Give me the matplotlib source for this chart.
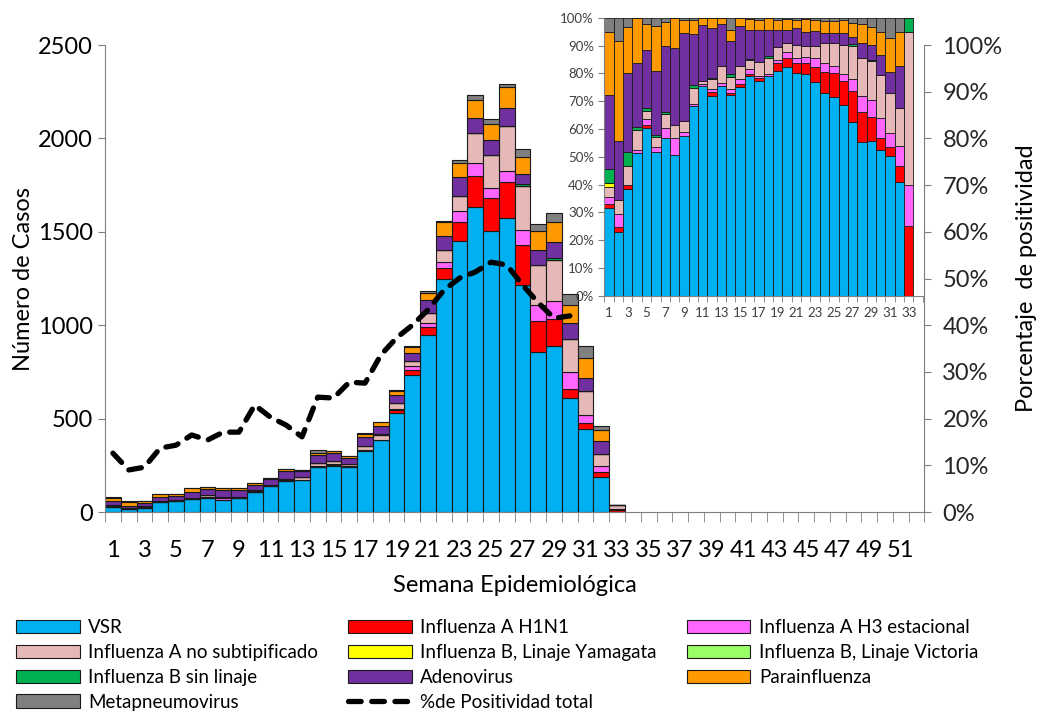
import numpy as np
import matplotlib
matplotlib.use("Agg")
import matplotlib.pyplot as plt
from matplotlib.ticker import FuncFormatter

plt.rcParams['font.family'] = ['Lato', 'DejaVu Sans']

# semanas epidemiologicas con datos
semanas = list(range(1, 34))

# casos por agente (semanas 1-33)
vsr = [25, 14, 23, 51, 58, 68, 77, 66, 73, 105, 139, 164, 170, 239, 247, 239, 325, 383, 528, 733,
       946, 1246, 1451, 1632, 1505, 1572, 1215, 854, 890, 613, 447, 189, 0]
h1n1 = [1, 1, 1, 0, 1, 0, 0, 0, 0, 0, 0, 3, 0, 2, 3, 2, 5, 0, 20, 27,
        46, 61, 102, 167, 177, 197, 214, 167, 141, 47, 28, 27, 10]
h3 = [2, 3, 0, 1, 2, 2, 5, 8, 2, 1, 1, 3, 2, 5, 6, 5, 3, 4, 6, 21,
      20, 33, 60, 67, 55, 57, 83, 88, 96, 87, 46, 33, 6]
a_nosub = [3, 3, 4, 7, 3, 5, 7, 6, 5, 9, 2, 8, 14, 14, 15, 10, 21, 27, 31, 27,
           54, 61, 81, 161, 172, 241, 233, 211, 224, 181, 126, 63, 22]
b_yamagata = [1, 0, 0, 0, 0, 0, 0, 0, 0, 0, 0, 0, 0, 0, 0, 0, 0, 0, 0, 0,
              0, 0, 0, 0, 0, 0, 0, 0, 0, 0, 0, 0, 0]
b_victoria = [0] * 33
b_sinlinaje = [4, 0, 3, 1, 1, 1, 1, 0, 0, 2, 0, 1, 0, 4, 0, 1, 0, 3, 0, 0,
               0, 0, 0, 0, 4, 0, 12, 0, 10, 0, 0, 0, 2]
adenovirus = [21, 13, 17, 23, 20, 30, 32, 36, 40, 28, 37, 41, 34, 40, 47, 32, 48, 46, 39, 43,
              71, 79, 100, 80, 76, 96, 52, 85, 83, 82, 69, 69, 0]
parainfluenza = [18, 22, 10, 16, 9, 21, 12, 14, 6, 8, 5, 8, 5, 13, 10, 12, 16, 21, 25, 34,
                 36, 70, 75, 98, 88, 110, 93, 102, 106, 98, 109, 57, 0]
metapneumo = [4, 5, 2, 0, 2, 4, 2, 0, 1, 1, 0, 0, 0, 14, 0, 1, 3, 0, 4, 5,
              9, 8, 15, 27, 25, 18, 39, 35, 51, 58, 63, 23, 0]

# % de positividad total (semanas 1-30)
sem_pos = list(range(1, 31))
positividad = [12.6, 9.0, 9.6, 13.7, 14.3, 16.5, 15.4, 17.1, 17.1, 22.9,
               20.3, 18.6, 16.1, 24.6, 24.4, 27.8, 27.6, 33.6, 37.3, 40.0,
               43.3, 47.5, 50.1, 51.4, 53.5, 52.9, 48.6, 44.8, 41.5, 42.0]

nombres = ['VSR', 'Influenza A H1N1', 'Influenza A H3 estacional', 'Influenza A no subtipificado',
           'Influenza B, Linaje Yamagata', 'Influenza B, Linaje Victoria', 'Influenza B sin linaje',
           'Adenovirus', 'Parainfluenza', 'Metapneumovirus']
colores = ['#00B0F0', '#FF0000', '#FF66FF', '#E6B9B8', '#FFFF00', '#99FF66', '#00B050',
           '#7030A0', '#FF9900', '#808080']
series = [vsr, h1n1, h3, a_nosub, b_yamagata, b_victoria, b_sinlinaje, adenovirus, parainfluenza, metapneumo]

fig = plt.figure(figsize=(10.42, 7.16), dpi=100)
ax = fig.add_axes([0.1008, 0.2849, 0.7863, 0.6522])

x = np.array(semanas)
base = np.zeros(len(x))
barras = []
for nom, col, s in zip(nombres, colores, series):
    b = ax.bar(x, s, width=1.0, bottom=base, color=col, edgecolor='#1a1a1a', linewidth=0.8, label=nom)
    barras.append(b)
    base = base + np.array(s)

ax.set_xlim(0.5, 52.5)
ax.set_ylim(0, 2500)
ax.set_yticks(range(0, 2501, 500))
ax.set_xticks(range(1, 53, 2))
ax.set_xticks(np.arange(0.5, 53, 1), minor=True)
ax.tick_params(axis='x', which='major', length=0, labelsize=17, pad=20)
ax.tick_params(axis='x', which='minor', length=7, color='#7f7f7f')
ax.tick_params(axis='y', labelsize=17, length=5, color='#7f7f7f')
for sp in ['top', 'right']:
    ax.spines[sp].set_visible(False)
for sp in ['left', 'bottom']:
    ax.spines[sp].set_color('#7f7f7f')
ax.set_ylabel('Número de Casos', fontsize=17, labelpad=3)
ax.set_xlabel('Semana Epidemiológica', fontsize=17, labelpad=10)

ax2 = ax.twinx()
ax2.set_ylim(0, 100)
ax2.set_yticks(range(0, 101, 10))
ax2.yaxis.set_major_formatter(FuncFormatter(lambda v, p: '%d%%' % v))
ax2.tick_params(axis='y', labelsize=17, length=5, color='#7f7f7f', labelcolor='#262626', pad=8)
for sp in ['top', 'left', 'bottom']:
    ax2.spines[sp].set_visible(False)
ax2.spines['right'].set_color('#7f7f7f')
linea, = ax2.plot(sem_pos, positividad, color='black', linewidth=3.8, linestyle=(0, (2.4, 2.0)),
                  dash_capstyle='round', label='%de Positividad total')
ax2.set_ylabel('Porcentaje  de positividad', fontsize=17, labelpad=10)

# grafico interior al 100%
ins = fig.add_axes([0.580, 0.587, 0.3056, 0.388])
ins.set_facecolor('white')
tot = np.array(base)
base2 = np.zeros(len(x))
for col, s in zip(colores, series):
    frac = np.array(s) / tot
    ins.bar(x, frac, width=1.0, bottom=base2, color=col, edgecolor='#1a1a1a', linewidth=0.6)
    base2 = base2 + frac
ins.set_xlim(0.5, 34.5)
ins.set_ylim(0, 1)
ins.set_yticks(np.arange(0, 1.01, 0.1))
ins.yaxis.set_major_formatter(FuncFormatter(lambda v, p: '%d%%' % round(v * 100)))
ins.set_xticks(range(1, 35, 2))
ins.set_xticks(np.arange(0.5, 35, 1), minor=True)
ins.tick_params(axis='x', which='major', length=0, labelsize=9.5, pad=8, labelcolor='#404040')
ins.tick_params(axis='x', which='minor', length=4, color='#7f7f7f')
ins.tick_params(axis='y', labelsize=9.5, length=4, color='#7f7f7f', labelcolor='#404040')
for sp in ['top', 'right']:
    ins.spines[sp].set_visible(False)
for sp in ['left', 'bottom']:
    ins.spines[sp].set_color('#7f7f7f')

# leyenda en filas de 3
h = barras + [linea]
orden = [0, 3, 6, 9, 1, 4, 7, 10, 2, 5, 8]
etiquetas = nombres + ['%de Positividad total']
fig.legend([h[i] for i in orden], [etiquetas[i] for i in orden], ncol=3,
           loc='upper left', bbox_to_anchor=(0.008, 0.146), frameon=False, fontsize=13.5,
           handlelength=3.4, handleheight=0.7, handletextpad=0.45, columnspacing=1.6,
           labelspacing=0.42, borderaxespad=0)

plt.savefig('out.png', dpi=100)
